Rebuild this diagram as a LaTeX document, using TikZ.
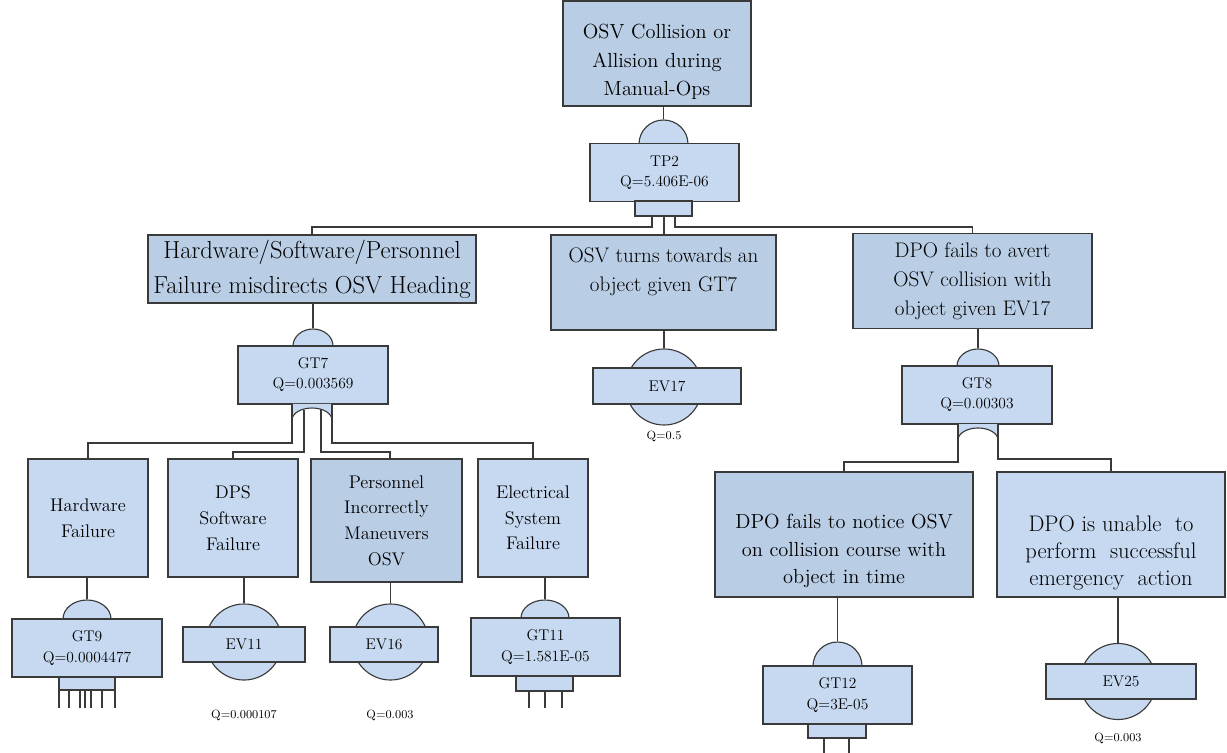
\documentclass[tikz,border=0pt]{standalone}
\usepackage{tikz}
\usetikzlibrary{shapes.geometric}
\definecolor{boxblue}{HTML}{C6D9F1}
\definecolor{darkblue}{HTML}{B9CDE5}
\definecolor{edge}{HTML}{3A3A3A}
\tikzset{
  event/.style={draw=edge, line width=0.9pt, fill=darkblue, align=center, inner sep=2pt},
  basic/.style={event, fill=boxblue},
  boxtext/.style={align=center, inner sep=0pt},
  lowbox/.style={basic, font=\fontsize{13}{18.3}\selectfont, minimum height=2.95cm},
  gatebox/.style={draw=edge, line width=0.8pt, fill=boxblue, align=center, minimum width=3.75cm, minimum height=1.45cm, font=\fontsize{11}{14.3}\selectfont},
  gatecap/.style={ellipse, draw=edge, line width=0.8pt, fill=boxblue, inner sep=0pt},
  gatefill/.style={draw=edge, line width=0.8pt, fill=boxblue},
  evcircle/.style={circle, draw=edge, line width=0.8pt, fill=boxblue, inner sep=0pt, minimum size=1.9cm},
  evbox/.style={gatebox, minimum height=0.875cm},
  qlabel/.style={font=\fontsize{8.5}{11}\selectfont, inner sep=0pt},
  wire/.style={draw=edge, line width=0.8pt},
}
\begin{document}
\begin{tikzpicture}[x=0.025cm, y=0.025cm]
\useasboundingbox (0,0) rectangle (1227,-753);

% top event and TP2
\node[event, line width=1.1pt, minimum width=4.7cm, minimum height=2.625cm] (top) at (657,-53.5) {};
\node[boxtext, font=\fontsize{14.5}{20.3}\selectfont] (topt) at (657,-62) {OSV Collision or\\Allision during\\Manual-Ops};
\node[gatecap, minimum width=1.225cm, minimum height=1.2cm] (tp2cap) at (663.5,-144) {};
\node[gatebox, minimum width=3.725cm] (tp2) at (664.5,-172.5) {TP2\\Q=5.406E-06};
\draw[gatefill] (635,-201) rectangle (692,-216);
\coordinate (tp2l) at (652,-216);
\coordinate (tp2m) at (664,-216);
\coordinate (tp2r) at (675,-216);

% first level
\node[event, minimum width=8.2cm, minimum height=1.7cm, font=\fontsize{17.5}{25}\selectfont] (hsp) at (312,-269) {Hardware/Software/Personnel\\Failure misdirects OSV Heading};
\node[event, minimum width=5.625cm, minimum height=2.375cm] (turn) at (663.5,-282.5) {};
\node[boxtext, font=\fontsize{15}{20.3}\selectfont] (turnt) at (663.5,-272) {OSV turns towards an\\object given GT7};
\node[event, minimum width=5.975cm, minimum height=2.375cm, font=\fontsize{15}{20.6}\selectfont] (avert) at (972.5,-281) {DPO fails to avert\\OSV collision with\\object given EV17};

% GT7
\node[gatecap, minimum width=1cm, minimum height=0.85cm] (gt7cap) at (313,-346) {};
\node[gatebox] (gt7) at (313,-375) {GT7\\Q=0.003569};
\fill[boxblue] (292,-404) -- (292,-420) arc[start angle=180, end angle=0, x radius=0.5cm, y radius=0.3cm] -- (332,-404) -- cycle;
\draw[wire] (292,-420) arc[start angle=180, end angle=0, x radius=0.5cm, y radius=0.3cm];
\coordinate (gt7a) at (292,-404);
\coordinate (gt7b) at (304,-410.4);
\coordinate (gt7c) at (321,-409.3);
\coordinate (gt7d) at (332,-404);

% EV17
\node[evcircle] (ev17c) at (664,-387) {};
\node[evbox, minimum width=3.7cm, minimum height=0.9cm] (ev17) at (667,-386) {EV17};
\node[qlabel] (ev17q) at (664,-436) {Q=0.5};

% GT8
\node[gatecap, minimum width=1.05cm, minimum height=0.85cm] (gt8cap) at (978,-366) {};
\node[gatebox] (gt8) at (977,-395) {GT8\\Q=0.00303};
\fill[boxblue] (958,-424) -- (958,-440) arc[start angle=180, end angle=0, x radius=0.5cm, y radius=0.3cm] -- (998,-424) -- cycle;
\draw[wire] (958,-440) arc[start angle=180, end angle=0, x radius=0.5cm, y radius=0.3cm];
\coordinate (gt8a) at (958,-424);
\coordinate (gt8b) at (998,-424);

% second level, left
\node[lowbox, minimum width=3cm] (hw) at (88,-518) {Hardware\\Failure};
\node[lowbox, minimum width=3.25cm] (dps) at (233,-518) {DPS\\Software\\Failure};
\node[lowbox, fill=darkblue, minimum width=3.775cm, minimum height=3.075cm] (per) at (386.5,-520.5) {Personnel\\Incorrectly\\Maneuvers\\OSV};
\node[lowbox, minimum width=2.75cm] (ele) at (533,-518) {Electrical\\System\\Failure};

% GT9
\node[gatecap, minimum width=1.2cm, minimum height=0.95cm] (gt9cap) at (87,-619) {};
\node[gatebox] (gt9) at (87,-648) {GT9\\Q=0.0004477};
\draw[gatefill] (59,-677) rectangle (115,-690);
\draw[wire] (59,-690) -- (59,-708) (115,-690) -- (115,-708)
  (69,-690) -- (69,-708) (80,-690) -- (80,-708) (85,-690) -- (85,-708)
  (91,-690) -- (91,-708) (102,-690) -- (102,-708);

% EV11 and EV16
\node[evcircle] (ev11c) at (244,-642) {};
\node[evbox, minimum width=3.05cm] (ev11) at (244,-644.5) {EV11};
\node[qlabel] (ev11q) at (244,-715) {Q=0.000107};
\node[evcircle] (ev16c) at (390.5,-642) {};
\node[evbox, minimum width=2.7cm] (ev16) at (384,-644.5) {EV16};
\node[qlabel] (ev16q) at (390,-715) {Q=0.003};

% GT11
\node[gatecap, minimum width=1.2cm, minimum height=0.9cm] (gt11cap) at (545,-618) {};
\node[gatebox, minimum width=3.725cm] (gt11) at (545.5,-647) {GT11\\Q=1.581E-05};
\draw[gatefill] (516,-676) rectangle (573,-691);
\draw[wire] (529,-691) -- (529,-708) (545,-691) -- (545,-708) (562,-691) -- (562,-708);

% second level, right
\node[event, line width=1.3pt, minimum width=6.45cm, minimum height=3.125cm] (dpon) at (844,-534.5) {};
\node[boxtext, font=\fontsize{14.5}{19.8}\selectfont] (dpont) at (844,-551) {DPO fails to notice OSV\\on collision course with\\object in time};
\node[basic, minimum width=5.7cm, minimum height=3.125cm] (dpou) at (1111,-534.5) {};
\node[boxtext, font=\fontsize{16}{19.5}\selectfont] (dpout) at (1111,-553) {DPO is unable\ \ to\\perform\ \ successful\\emergency\ \ action};

% GT12
\node[gatecap, minimum width=1.225cm, minimum height=1.2cm] (gt12cap) at (837.5,-666) {};
\node[gatebox, minimum width=3.725cm] (gt12) at (837.5,-695) {GT12\\Q=3E-05};
\draw[gatefill] (808,-724) rectangle (866,-738);
\draw[wire] (824,-738) -- (824,-753) (849,-738) -- (849,-753);

% EV25
\node[evcircle] (ev25c) at (1118,-681.5) {};
\node[evbox] (ev25) at (1121,-681.5) {EV25};
\node[qlabel] (ev25q) at (1118,-738) {Q=0.003};

% connectors
\draw[wire] (top.south -| tp2cap.north) -- (tp2cap.north);
\draw[wire] (tp2l) -- ++(0,-11) -| (hsp.north);
\draw[wire] (tp2m) -- (tp2m |- turn.north);
\draw[wire] (tp2r) -- ++(0,-11) -| (avert.north);
\draw[wire] (hsp.south -| gt7cap.north) -- (gt7cap.north);
\draw[wire] (turn.south -| ev17c.north) -- (ev17c.north);
\draw[wire] (avert.south -| gt8cap.north) -- (gt8cap.north);
\draw[wire] (gt7a) -- (292,-443) -| (hw.north);
\draw[wire] (gt7b) -- (304,-452) -| (dps.north);
\draw[wire] (gt7c) -- (321,-452) -| (390,-459);
\draw[wire] (gt7d) -- (332,-443) -| (ele.north);
\draw[wire] (gt8a) -- (958,-462) -| (dpon.north);
\draw[wire] (gt8b) -- (998,-459) -| (dpou.north);
\draw[wire] (hw.south -| gt9cap.north) -- (gt9cap.north);
\draw[wire] (dps.south -| ev11c.north) -- (ev11c.north);
\draw[wire] (per.south -| ev16c.north) -- (ev16c.north);
\draw[wire] (ele.south -| gt11cap.north) -- (gt11cap.north);
\draw[wire] (dpon.south -| gt12cap.north) -- (gt12cap.north);
\draw[wire] (dpou.south -| ev25c.north) -- (ev25c.north);
\end{tikzpicture}
\end{document}
